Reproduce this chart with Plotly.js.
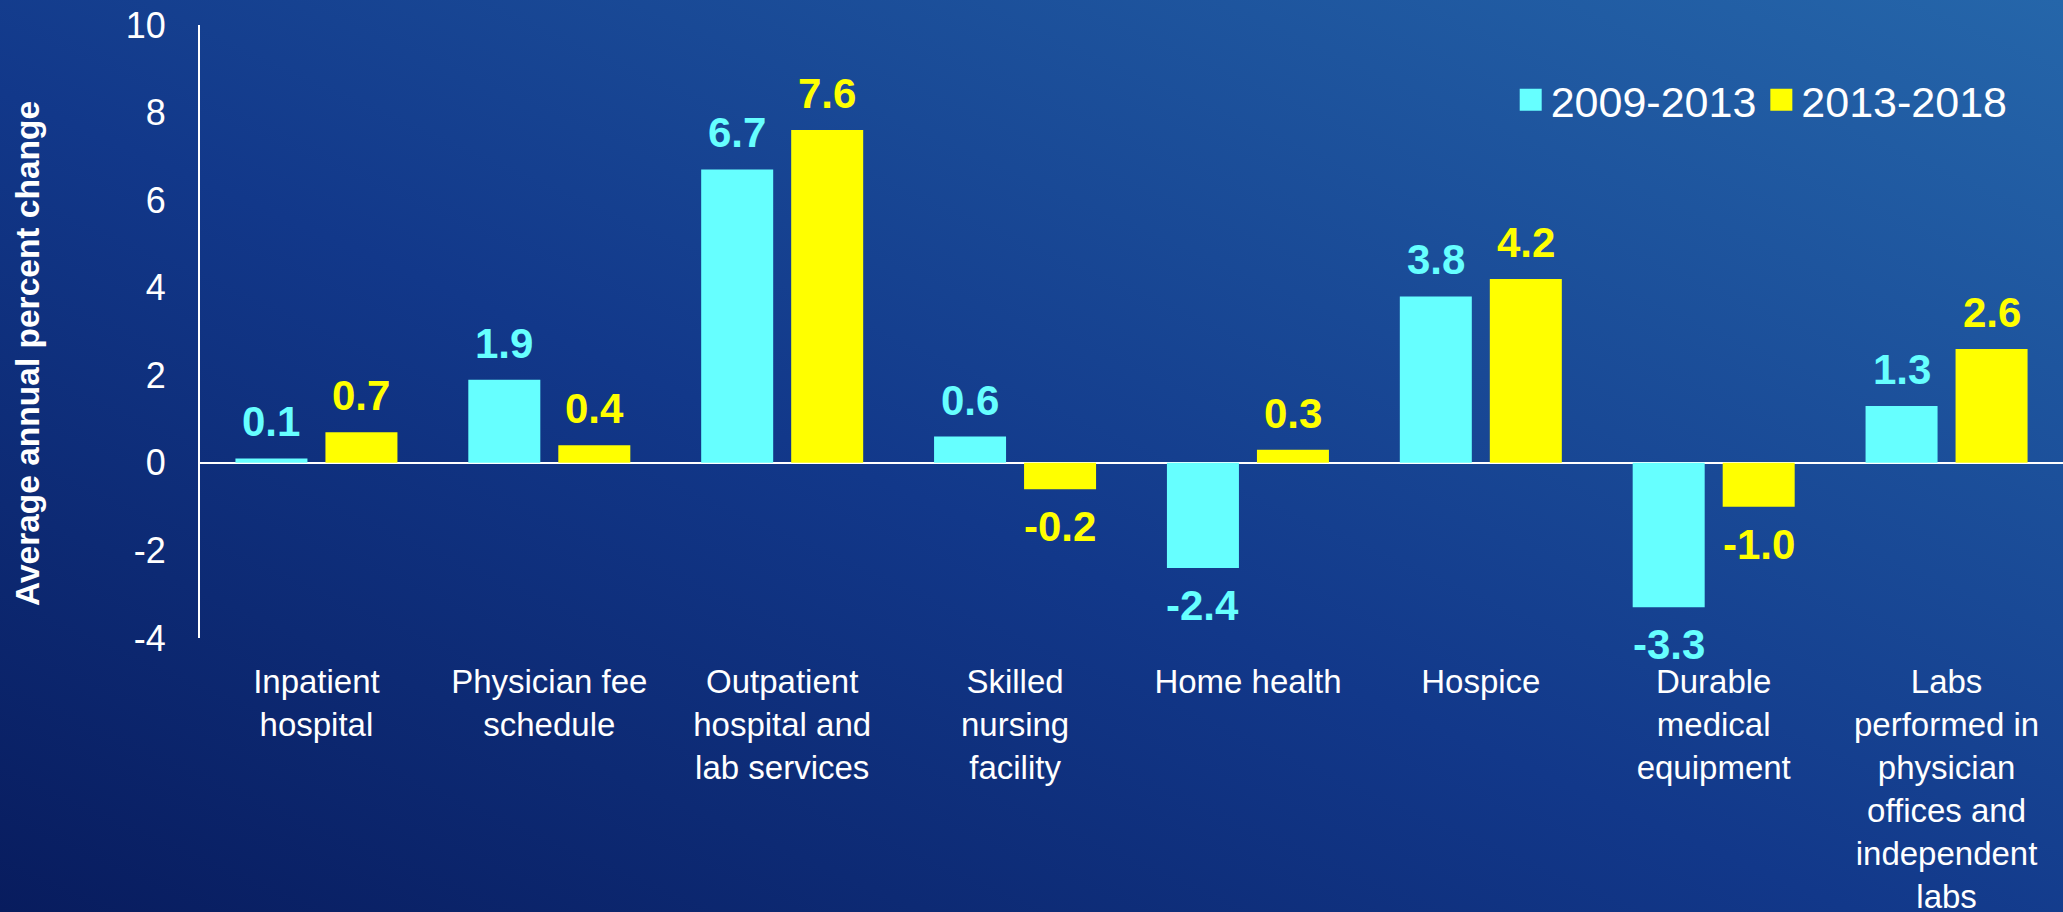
<!DOCTYPE html>
<html>
<head>
<meta charset="utf-8">
<script src="https://cdn.plot.ly/plotly-3.0.1.min.js"></script>
<style>
  html, body { margin: 0; padding: 0; }
  body {
    width: 2063px; height: 912px; overflow: hidden;
    background: linear-gradient(to top right, #081c5e 0%, #12388a 45%, #2566aa 100%);
  }
  #chart { width: 2063px; height: 912px; }
</style>
</head>
<body>
<div id="chart"></div>
<script>
// ---- data ----
const categories = [
  'Inpatient hospital',
  'Physician fee schedule',
  'Outpatient hospital and lab services',
  'Skilled nursing facility',
  'Home health',
  'Hospice',
  'Durable medical equipment',
  'Labs performed in physician offices and independent labs'
];
const tickLabels = [
  'Inpatient<br>hospital',
  'Physician fee<br>schedule',
  'Outpatient<br>hospital and<br>lab services',
  'Skilled<br>nursing<br>facility',
  'Home health',
  'Hospice',
  'Durable<br>medical<br>equipment',
  'Labs<br>performed in<br>physician<br>offices and<br>independent<br>labs'
];
const seriesNames = ['2009-2013', '2013-2018'];
const values2009_2013 = [0.1, 1.9, 6.7, 0.6, -2.4, 3.8, -3.3, 1.3];
const values2013_2018 = [0.7, 0.4, 7.6, -0.6, 0.3, 4.2, -1.0, 2.6];
const labels2009_2013 = ['0.1', '1.9', '6.7', '0.6', '-2.4', '3.8', '-3.3', '1.3'];
const labels2013_2018 = ['0.7', '0.4', '7.6', '-0.2', '0.3', '4.2', '-1.0', '2.6'];
const yTickVals = [-4, -2, 0, 2, 4, 6, 8, 10];
const yTickText = ['-4', '-2', '0', '2', '4', '6', '8', '10'];
const yAxisTitle = 'Average annual percent change';

// ---- style ----
const FONT = 'Liberation Sans, Arial, Helvetica, sans-serif';
const CYAN = '#66FFFF';
const YELLOW = '#FFFF00';

const traces = [
  { type: 'bar', name: seriesNames[0], x: categories, y: values2009_2013,
    marker: { color: CYAN }, showlegend: false, hoverinfo: 'y' },
  { type: 'bar', name: seriesNames[1], x: categories, y: values2013_2018,
    marker: { color: YELLOW }, showlegend: false, hoverinfo: 'y' },
  // legend entries (square swatches)
  { type: 'scatter', mode: 'markers', name: seriesNames[0], x: [null], y: [null],
    marker: { symbol: 'square', size: 16, color: CYAN }, showlegend: true },
  { type: 'scatter', mode: 'markers', name: seriesNames[1], x: [null], y: [null],
    marker: { symbol: 'square', size: 16, color: YELLOW }, showlegend: true }
];

function labelAnn(cat, v, txt, color, shift) {
  return {
    x: cat, y: v, xref: 'x', yref: 'y', text: txt, showarrow: false,
    xshift: shift, yanchor: v >= 0 ? 'bottom' : 'top', yshift: v >= 0 ? 11 : -12,
    font: { family: FONT, size: 42, color: color, weight: 700 }
  };
}
const annotations = [];
categories.forEach((c, i) => {
  annotations.push(labelAnn(c, values2009_2013[i], labels2009_2013[i], CYAN, -45));
  annotations.push(labelAnn(c, values2013_2018[i], labels2013_2018[i], YELLOW, 45));
});
// y-axis title
annotations.push({
  xref: 'paper', yref: 'paper', x: -0.0923, y: 0.4633,
  xanchor: 'center', yanchor: 'middle', textangle: -90, showarrow: false,
  text: yAxisTitle,
  font: { family: FONT, size: 33.5, color: '#FFFFFF', weight: 700 }
});

const layout = {
  width: 2063, height: 912,
  margin: { l: 200, r: 0, t: 25, b: 274, pad: 0 },
  paper_bgcolor: 'rgba(0,0,0,0)',
  plot_bgcolor: 'rgba(0,0,0,0)',
  font: { family: FONT, color: '#FFFFFF' },
  barmode: 'group',
  bargap: 0.227,
  bargroupgap: 0.2,
  xaxis: {
    type: 'category',
    tickvals: categories, ticktext: tickLabels,
    showgrid: false, zeroline: false, showline: false, ticks: '',
    tickfont: { family: FONT, size: 33, color: '#FFFFFF' },
    ticklabelstandoff: 21, automargin: false
  },
  yaxis: {
    range: [-4, 10], tickvals: yTickVals, ticktext: yTickText,
    showgrid: false, showline: true, linecolor: '#FFFFFF', linewidth: 2,
    zeroline: true, zerolinecolor: '#FFFFFF', zerolinewidth: 2,
    ticks: '', ticklabelstandoff: 25,
    tickfont: { family: FONT, size: 36, color: '#FFFFFF' },
    automargin: false
  },
  legend: {
    orientation: 'h', x: 0.973, xanchor: 'right', y: 0.878, yanchor: 'middle',
    font: { family: FONT, size: 43, color: '#FFFFFF' },
    bgcolor: 'rgba(0,0,0,0)', itemsizing: 'trace', itemwidth: 30
  },
  annotations: annotations,
  showlegend: true
};

Plotly.newPlot('chart', traces, layout, { displayModeBar: false, staticPlot: true })
  .then(gd => {
    // enlarge legend swatches to match the reference
    gd.querySelectorAll('.legend .legendpoints path').forEach(p => {
      p.setAttribute('d', 'M11,11H-11V-11H11Z');
    });
  });
</script>
</body>
</html>
